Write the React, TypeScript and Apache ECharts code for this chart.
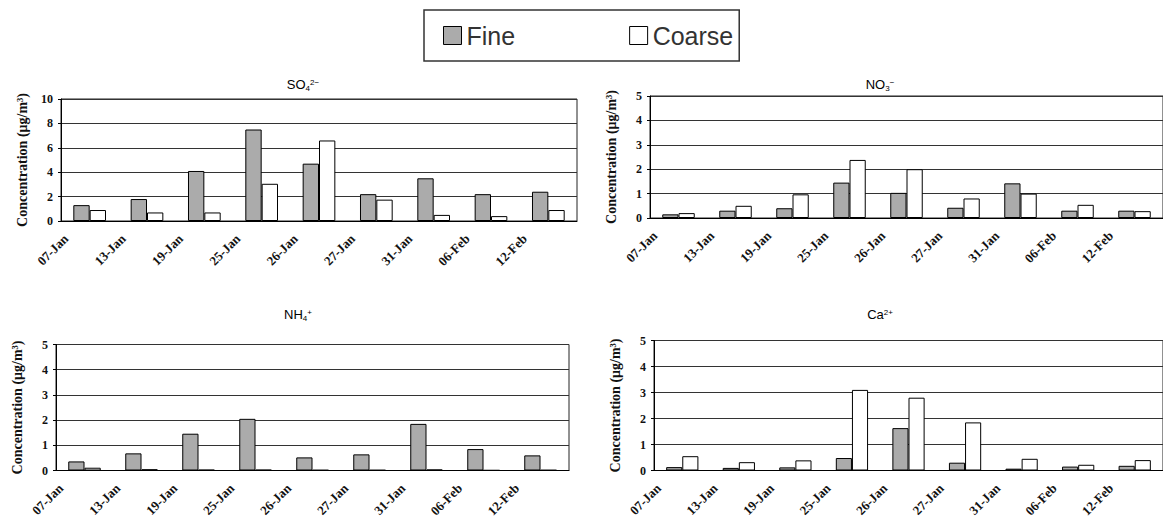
import React, { useEffect, useRef } from "react";
import * as echarts from "echarts";

const categories = ["07-Jan", "13-Jan", "19-Jan", "25-Jan", "26-Jan", "27-Jan", "31-Jan", "06-Feb", "12-Feb"];

const so4Fine = [1.3, 1.8, 4.1, 7.5, 4.7, 2.2, 3.5, 2.2, 2.4];
const so4Coarse = [0.9, 0.7, 0.7, 3.05, 6.6, 1.75, 0.5, 0.4, 0.9];
const no3Fine = [0.15, 0.3, 0.4, 1.45, 1.03, 0.42, 1.42, 0.3, 0.3];
const no3Coarse = [0.2, 0.5, 0.97, 2.38, 2.0, 0.8, 1.0, 0.54, 0.28];
const nh4Fine = [0.36, 0.68, 1.46, 2.05, 0.52, 0.64, 1.85, 0.85, 0.6];
const nh4Coarse = [0.11, 0.05, 0.03, 0.03, 0.02, 0.02, 0.04, 0.01, 0.02];
const caFine = [0.13, 0.1, 0.12, 0.48, 1.63, 0.3, 0.07, 0.15, 0.18];
const caCoarse = [0.55, 0.32, 0.39, 3.1, 2.8, 1.85, 0.45, 0.22, 0.4];

const seriesNames = ["Fine", "Coarse"];
const yAxisTitle = "Concentration (\u03bcg/m\u00b3)";

const panelData = [
  { fine: so4Fine, coarse: so4Coarse, max: 10, interval: 2, title: "{m|SO}{sub|4}{sup|2\u2212}" },
  { fine: no3Fine, coarse: no3Coarse, max: 5, interval: 1, title: "{m|NO}{sub|3}{sup|\u2212}" },
  { fine: nh4Fine, coarse: nh4Coarse, max: 5, interval: 1, title: "{m|NH}{sub|4}{sup|+}" },
  { fine: caFine, coarse: caCoarse, max: 5, interval: 1, title: "{m|Ca}{sup|2+}" },
];

const layout = [
  { left: 61, top: 99, width: 516, height: 122, tx: 303, ty: 84 },
  { left: 650, top: 96, width: 515, height: 122, tx: 880, ty: 84 },
  { left: 56, top: 344.5, width: 513, height: 126, tx: 298, ty: 314 },
  { left: 654, top: 340.5, width: 515, height: 130, tx: 880, ty: 314 },
];

const serif = "'Liberation Serif', 'Times New Roman', serif";
const sans = "'Liberation Sans', Arial, sans-serif";

export default function App() {
  const ref = useRef<HTMLDivElement>(null);
  useEffect(() => {
    document.body.style.margin = "0";
    if (!ref.current) return;
    const chart = echarts.init(ref.current, null, { renderer: "svg" });

    const grids = layout.map((l) => ({
      left: l.left,
      top: l.top,
      width: l.width,
      height: l.height,
      show: true,
      borderColor: "#222",
      borderWidth: 1,
      containLabel: false,
    }));

    const xAxes = panelData.map((p, i) => ({
      type: "category",
      gridIndex: i,
      data: categories,
      axisLine: { show: true, lineStyle: { color: "#000", width: 1 } },
      axisTick: { show: false },
      axisLabel: {
        interval: 0,
        rotate: 45,
        margin: 8,
        verticalAlign: "bottom",
        padding: [0, 22, 5, 0],
        fontFamily: serif,
        fontWeight: "bold",
        fontSize: 13,
        color: "#111",
      },
    }));

    const yAxes = panelData.map((p, i) => ({
      type: "value",
      gridIndex: i,
      min: 0,
      max: p.max,
      interval: p.interval,
      name: yAxisTitle,
      nameLocation: "middle",
      nameRotate: 90,
      nameGap: 32,
      nameTextStyle: { fontFamily: serif, fontWeight: "bold", fontSize: 14, color: "#111" },
      axisLine: { show: true, lineStyle: { color: "#000", width: 1 } },
      axisTick: { show: true, length: 3, lineStyle: { color: "#000" } },
      axisLabel: { margin: 8, fontFamily: serif, fontWeight: "bold", fontSize: 12, color: "#111" },
      splitLine: { show: true, lineStyle: { color: "#333", width: 1 } },
    }));

    const series: any[] = [];
    panelData.forEach((p, i) => {
      series.push({
        name: seriesNames[0],
        type: "bar",
        xAxisIndex: i,
        yAxisIndex: i,
        data: p.fine,
        barGap: "0%",
        barCategoryGap: "43%",
        itemStyle: { color: "#ababab", borderColor: "#000", borderWidth: 1 },
      });
      series.push({
        name: seriesNames[1],
        type: "bar",
        xAxisIndex: i,
        yAxisIndex: i,
        data: p.coarse,
        barGap: "0%",
        barCategoryGap: "43%",
        itemStyle: { color: "#ffffff", borderColor: "#000", borderWidth: 1 },
      });
    });

    const rich = {
      m: { fontFamily: sans, fontSize: 13, color: "#222", lineHeight: 16 },
      sub: { fontFamily: sans, fontSize: 8, color: "#222", verticalAlign: "bottom", lineHeight: 8 },
      sup: { fontFamily: sans, fontSize: 8, color: "#222", verticalAlign: "top", lineHeight: 8, padding: [2, 0, 0, 0] },
    };

    const graphic = panelData.map((p, i) => ({
      type: "text",
      x: layout[i].tx,
      y: layout[i].ty,
      style: { text: p.title, rich, align: "center", verticalAlign: "middle" },
    }));

    chart.setOption({
      animation: false,
      backgroundColor: "#fff",
      legend: {
        data: seriesNames,
        left: 424,
        top: 10,
        icon: "rect",
        itemWidth: 18,
        itemHeight: 18,
        itemGap: 114,
        padding: [13, 6, 13, 19],
        borderColor: "#333",
        borderWidth: 1.5,
        selectedMode: false,
        itemStyle: { borderColor: "#000", borderWidth: 1 },
        textStyle: { fontFamily: sans, fontSize: 25, color: "#333" },
      },
      grid: grids,
      xAxis: xAxes,
      yAxis: yAxes,
      series,
      graphic,
    });
    return () => chart.dispose();
  }, []);
  return <div ref={ref} style={{ width: 1163, height: 521 }} />;
}
